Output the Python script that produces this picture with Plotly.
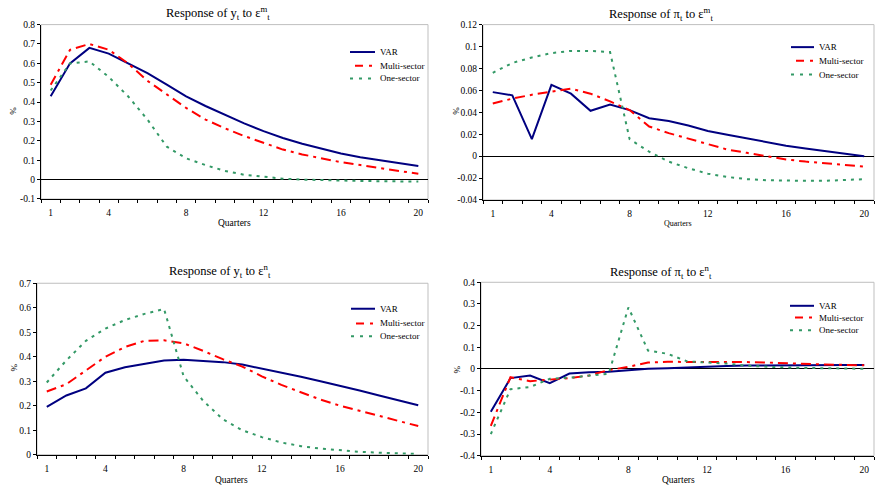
import plotly.graph_objects as go

quarters = list(range(1, 21))
series_names = ["VAR", "Multi-sector", "One-sector"]

# Panel 1: Response of y_t to eps^m_t
p1_var = [0.43, 0.60, 0.68, 0.65, 0.60, 0.55, 0.49, 0.43, 0.38, 0.335, 0.29, 0.25, 0.215, 0.185, 0.16, 0.135, 0.115, 0.10, 0.085, 0.07]
p1_multi = [0.49, 0.67, 0.70, 0.67, 0.60, 0.51, 0.44, 0.37, 0.31, 0.265, 0.225, 0.19, 0.155, 0.13, 0.11, 0.09, 0.075, 0.06, 0.045, 0.03]
p1_one = [0.46, 0.60, 0.61, 0.53, 0.43, 0.31, 0.17, 0.11, 0.075, 0.045, 0.025, 0.015, 0.005, 0.0, -0.003, -0.005, -0.007, -0.008, -0.009, -0.01]

# Panel 2: Response of pi_t to eps^m_t
p2_var = [0.0584, 0.0555, 0.0155, 0.065, 0.057, 0.0414, 0.047, 0.042, 0.0346, 0.032, 0.028, 0.023, 0.0195, 0.016, 0.0125, 0.0095, 0.007, 0.0045, 0.002, 0.0]
p2_multi = [0.048, 0.0525, 0.056, 0.059, 0.0615, 0.057, 0.05, 0.042, 0.027, 0.021, 0.016, 0.0105, 0.006, 0.003, 0.0, -0.003, -0.005, -0.0065, -0.008, -0.0095]
p2_one = [0.076, 0.085, 0.09, 0.094, 0.096, 0.096, 0.095, 0.0155, 0.004, -0.005, -0.011, -0.016, -0.019, -0.021, -0.022, -0.0225, -0.0225, -0.0225, -0.022, -0.021]

# Panel 3: Response of y_t to eps^n_t
p3_var = [0.195, 0.242, 0.271, 0.335, 0.357, 0.37, 0.385, 0.388, 0.384, 0.378, 0.368, 0.352, 0.336, 0.318, 0.30, 0.282, 0.262, 0.242, 0.222, 0.202]
p3_multi = [0.258, 0.288, 0.344, 0.40, 0.44, 0.465, 0.467, 0.455, 0.424, 0.39, 0.36, 0.32, 0.285, 0.255, 0.225, 0.20, 0.18, 0.16, 0.137, 0.117]
p3_one = [0.295, 0.385, 0.465, 0.515, 0.55, 0.575, 0.595, 0.32, 0.22, 0.145, 0.10, 0.072, 0.05, 0.035, 0.025, 0.018, 0.012, 0.008, 0.005, 0.003]

# Panel 4: Response of pi_t to eps^n_t
p4_var = [-0.197, -0.042, -0.03, -0.065, -0.021, -0.015, -0.013, -0.005, 0.001, 0.004, 0.008, 0.012, 0.014, 0.016, 0.017, 0.018, 0.018, 0.018, 0.018, 0.018]
p4_multi = [-0.262, -0.038, -0.056, -0.05, -0.042, -0.03, -0.005, 0.01, 0.03, 0.033, 0.033, 0.034, 0.033, 0.032, 0.03, 0.026, 0.023, 0.021, 0.019, 0.017]
p4_one = [-0.30, -0.093, -0.083, -0.045, -0.04, -0.03, -0.022, 0.284, 0.085, 0.07, 0.035, 0.03, 0.025, 0.015, 0.01, 0.007, 0.005, 0.003, 0.002, 0.001]

x_tick_vals = [1, 4, 8, 12, 16, 20]
x_tick_text = ["1", "4", "8", "12", "16", "20"]

p1_yticks = [-0.1, 0, 0.1, 0.2, 0.3, 0.4, 0.5, 0.6, 0.7, 0.8]
p1_yticktext = ["-0.1", "0", "0.1", "0.2", "0.3", "0.4", "0.5", "0.6", "0.7", "0.8"]
p2_yticks = [-0.04, -0.02, 0, 0.02, 0.04, 0.06, 0.08, 0.1, 0.12]
p2_yticktext = ["-0.04", "-0.02", "0", "0.02", "0.04", "0.06", "0.08", "0.1", "0.12"]
p3_yticks = [0, 0.1, 0.2, 0.3, 0.4, 0.5, 0.6, 0.7]
p3_yticktext = ["0", "0.1", "0.2", "0.3", "0.4", "0.5", "0.6", "0.7"]
p4_yticks = [-0.4, -0.3, -0.2, -0.1, 0, 0.1, 0.2, 0.3, 0.4]
p4_yticktext = ["-0.4", "-0.3", "-0.2", "-0.1", "0", "0.1", "0.2", "0.3", "0.4"]

titles = [
    "Response of y<sub>t</sub> to ε<sup>m</sup><sub>t</sub>",
    "Response of π<sub>t</sub> to ε<sup>m</sup><sub>t</sub>",
    "Response of y<sub>t</sub> to ε<sup>n</sup><sub>t</sub>",
    "Response of π<sub>t</sub> to ε<sup>n</sup><sub>t</sub>",
]

W, H = 882, 495
FONT = "Liberation Serif, Times New Roman, serif"

panel_data = [
    (p1_var, p1_multi, p1_one, p1_yticks, p1_yticktext),
    (p2_var, p2_multi, p2_one, p2_yticks, p2_yticktext),
    (p3_var, p3_multi, p3_one, p3_yticks, p3_yticktext),
    (p4_var, p4_multi, p4_one, p4_yticks, p4_yticktext),
]

# pixel boxes (left, top, right, bottom)
boxes = [(41, 20, 428, 198), (483, 20, 874, 199), (37, 284, 428, 459), (481, 283, 874, 460)]
title_pos = [(218, 8), (661, 9), (220, 271), (661, 272)]
quarter_pos = [(234, 222), (678, 223), (232, 485), (678, 485)]
pct_pos = [(13, 108), (456, 108), (14, 370), (457, 372)]
# legend: (line x0, line x1, text x, [row y's])
legend_pos = [
    (350, 375, 378, [48, 62, 75]),
    (791, 814, 817, [43, 57, 71]),
    (351, 375, 378, [310, 325, 338]),
    (790, 814, 817, [307, 319, 332]),
]

styles = [
    dict(color="#000080", width=2, dash="solid", ldash="solid", loff=0),
    dict(color="#FF0000", width=2, dash="10px,5px,3px,5px", ldash="8px,6px,3px,10px", loff=5),
    dict(color="#339966", width=2, dash="3px,5px", ldash="3px,6px", loff=0),
]

fig = go.Figure()
annotations = []
shapes = []
layout = dict(
    width=W, height=H, margin=dict(l=0, r=0, t=0, b=0),
    paper_bgcolor="white", plot_bgcolor="white",
    font=dict(family=FONT, size=10, color="black"),
    showlegend=False,
)

for i, (var, multi, one, ytv, ytt) in enumerate(panel_data):
    n = i + 1
    sfx = "" if n == 1 else str(n)
    L, T, R, B = boxes[i]
    for s, vals, st in zip(series_names, [var, multi, one], styles):
        fig.add_trace(go.Scatter(
            x=quarters, y=vals, mode="lines", name=s,
            line=dict(color=st["color"], width=st["width"], dash=st["dash"]),
            xaxis="x" + sfx, yaxis="y" + sfx,
        ))
    layout["xaxis" + sfx] = dict(
        domain=[L / W, R / W], anchor="y" + sfx, range=[0.5, 20.5],
        tickmode="array", tickvals=x_tick_vals, ticktext=x_tick_text,
        ticks="outside", ticklen=5, tickcolor="rgba(0,0,0,0)",
        showline=True, linecolor="black", linewidth=1,
        showgrid=False, zeroline=False,
        minor=dict(tickmode="array", tickvals=[k + 0.5 for k in range(0, 21)],
                   ticks="outside", ticklen=3, tickcolor="black", showgrid=False),
        tickfont=dict(size=9.5, family=FONT, color="black"),
    )
    layout["yaxis" + sfx] = dict(
        domain=[1 - B / H, 1 - T / H], anchor="x" + sfx,
        range=[ytv[0], ytv[-1]], tickmode="array", tickvals=ytv, ticktext=ytt,
        ticks="outside", ticklen=3, tickcolor="black", showline=True,
        linecolor="black", linewidth=1, showgrid=False,
        zeroline=True, zerolinecolor="black", zerolinewidth=1,
        tickfont=dict(size=9.5, family=FONT, color="black"),
    )
    shapes.append(dict(type="rect", xref=f"x{sfx} domain", yref=f"y{sfx} domain",
                       x0=0, x1=1, y0=0, y1=1, line=dict(color="#BFBFBF", width=1),
                       layer="below"))
    # manual legend
    lx0, lx1, ltx, rows = legend_pos[i]
    for s, st, ry in zip(series_names, styles, rows):
        shapes.append(dict(type="line", xref="paper", yref="paper",
                           x0=(lx0 + st["loff"]) / W, x1=lx1 / W, y0=1 - ry / H, y1=1 - ry / H,
                           line=dict(color=st["color"], width=st["width"], dash=st["ldash"])))
        annotations.append(dict(text=s, x=ltx / W, y=1 - ry / H, xref="paper", yref="paper",
                                xanchor="left", yanchor="middle", showarrow=False,
                                font=dict(size=9, family=FONT, color="black")))
    tx, ty = title_pos[i]
    annotations.append(dict(text=titles[i], x=tx / W, y=1 - ty / H, xref="paper", yref="paper",
                            xanchor="center", yanchor="middle", showarrow=False,
                            font=dict(size=12.5, family=FONT, color="black")))
    qx, qy = quarter_pos[i]
    annotations.append(dict(text="Quarters", x=qx / W, y=1 - qy / H, xref="paper", yref="paper",
                            xanchor="center", yanchor="middle", showarrow=False,
                            font=dict(size=9.5 if n != 2 else 8, family=FONT, color="black")))
    px_, py_ = pct_pos[i]
    annotations.append(dict(text="%", x=px_ / W, y=1 - py_ / H, xref="paper", yref="paper",
                            xanchor="center", yanchor="middle", showarrow=False, textangle=-90,
                            font=dict(size=9, family=FONT, color="black")))

layout["annotations"] = annotations
layout["shapes"] = shapes
fig.update_layout(**layout)
fig.write_html("out.html")
